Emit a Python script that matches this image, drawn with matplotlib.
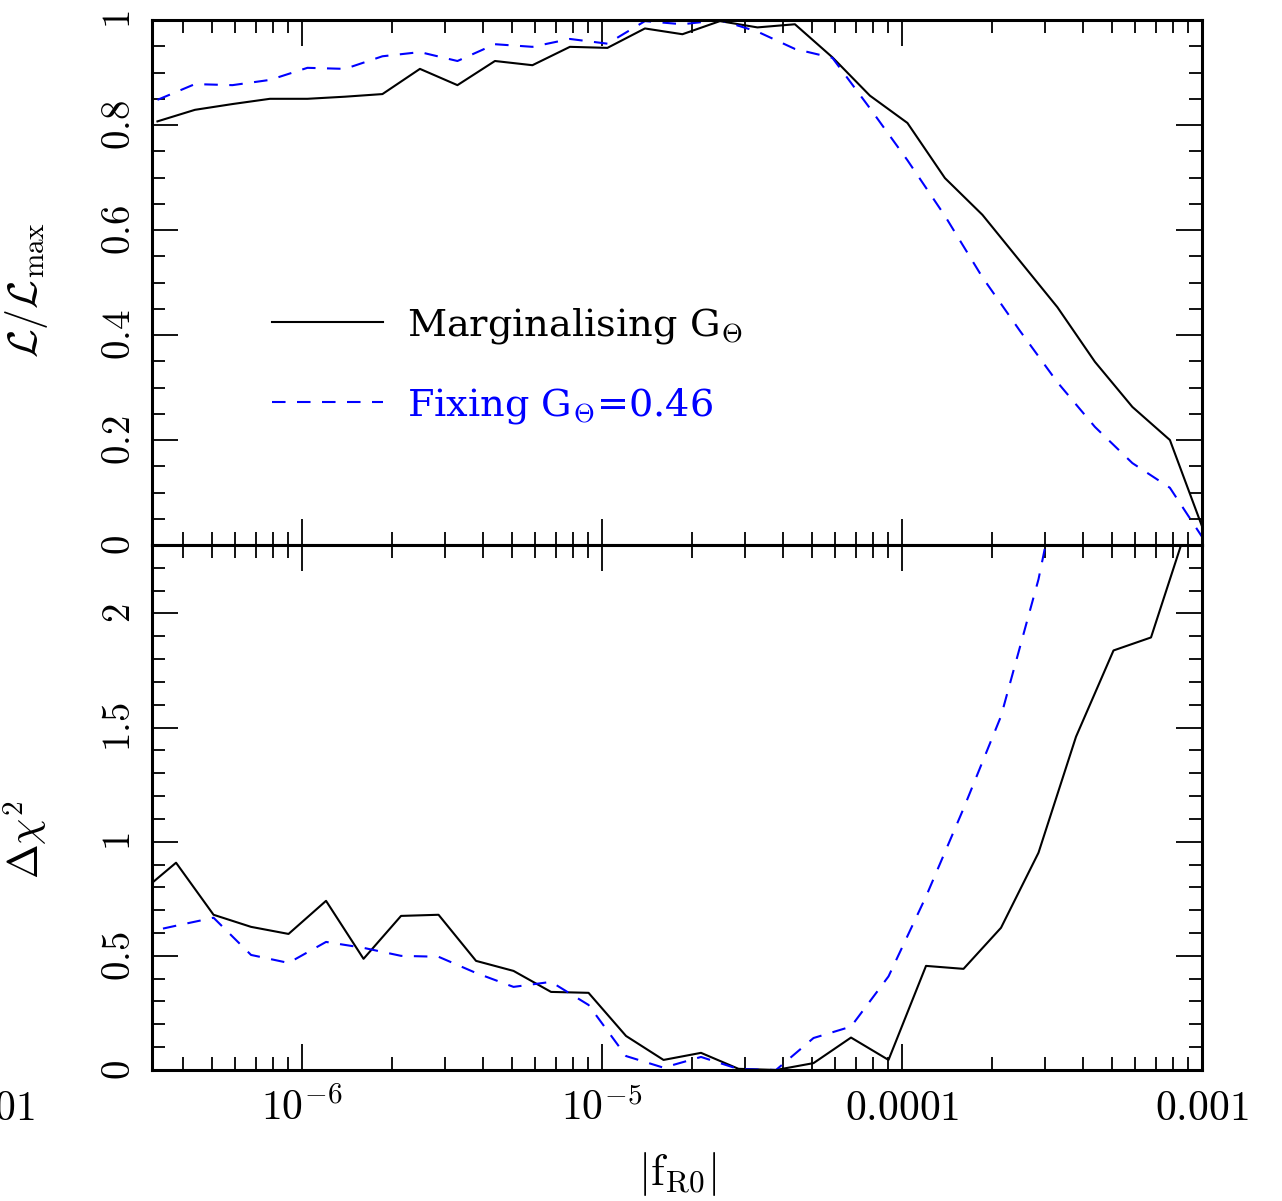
import numpy as np
import matplotlib
matplotlib.use("Agg")
import matplotlib.pyplot as plt
from matplotlib.ticker import FixedLocator, FixedFormatter, NullFormatter, LogLocator

# log10 |f_R0| grid of the likelihood (top) and of the chi^2 (bottom)
logf_like = [-6.482, -6.357, -6.232, -6.107, -5.982, -5.857, -5.732, -5.607, -5.482, -5.357,
             -5.232, -5.107, -4.982, -4.857, -4.732, -4.607, -4.482, -4.357, -4.232, -4.107,
             -3.982, -3.857, -3.732, -3.607, -3.482, -3.357, -3.232, -3.107, -2.982]
logf_chi2 = [-6.545, -6.420, -6.295, -6.170, -6.045, -5.920, -5.795, -5.670, -5.545, -5.420,
             -5.295, -5.170, -5.045, -4.920, -4.795, -4.670, -4.545, -4.420, -4.295, -4.170,
             -4.045, -3.920, -3.795, -3.670, -3.545, -3.420, -3.295, -3.170, -3.045]

like_marg = [0.807, 0.829, 0.840, 0.850, 0.850, 0.854, 0.859, 0.907, 0.876, 0.922,
             0.914, 0.949, 0.947, 0.984, 0.973, 0.998, 0.986, 0.992, 0.929, 0.856,
             0.804, 0.699, 0.629, 0.541, 0.453, 0.349, 0.263, 0.200, 0.008]
like_fixed = [0.848, 0.878, 0.876, 0.886, 0.909, 0.907, 0.931, 0.939, 0.922, 0.954,
              0.949, 0.964, 0.955, 0.998, 0.992, 1.000, 0.978, 0.945, 0.928, 0.832,
              0.733, 0.627, 0.510, 0.408, 0.310, 0.225, 0.156, 0.109, 0.000]

dchi2_marg = [0.77, 0.908, 0.68, 0.627, 0.596, 0.741, 0.487, 0.675, 0.68, 0.478,
              0.434, 0.342, 0.338, 0.149, 0.044, 0.075, 0.005, 0.0, 0.03, 0.142,
              0.044, 0.456, 0.443, 0.623, 0.952, 1.46, 1.838, 1.895, 2.40]
dchi2_fixed = [0.596, 0.632, 0.667, 0.504, 0.469, 0.561, 0.535, 0.50, 0.496, 0.425,
               0.364, 0.386, 0.285, 0.061, 0.01, 0.057, 0.004, 0.0, 0.14, 0.19,
               0.41, 0.76, 1.145, 1.55, 2.15, 2.95]

xticks = [1e-6, 1e-5, 1e-4, 1e-3]
xticklabels = [r"$10^{-6}$", r"$10^{-5}$", r"$0.0001$", r"$0.001$"]
like_ticks = [0, 0.2, 0.4, 0.6, 0.8, 1]
like_ticklabels = ["0", "0.2", "0.4", "0.6", "0.8", "1"]
chi2_ticks = [0, 0.5, 1, 1.5, 2]
chi2_ticklabels = ["0", "0.5", "1", "1.5", "2"]

plt.rcParams["mathtext.fontset"] = "cm"
plt.rcParams["font.family"] = "DejaVu Serif"

BLUE = "#0000ff"


def style(ax, yticks, yticklabels, yminor, ymax):
    ax.set_xscale("log")
    ax.set_xlim(10 ** -6.5, 1e-3)
    ax.set_ylim(0, ymax)
    ax.xaxis.set_major_locator(FixedLocator(xticks))
    ax.xaxis.set_minor_locator(LogLocator(base=10, subs=np.arange(2, 10)))
    ax.xaxis.set_minor_formatter(NullFormatter())
    ax.yaxis.set_major_locator(FixedLocator(yticks))
    ax.yaxis.set_major_formatter(FixedFormatter(["$%s$" % s for s in yticklabels]))
    ax.yaxis.set_minor_locator(FixedLocator(yminor))
    ax.tick_params(which="both", direction="in", top=True, right=True, width=1.3)
    ax.tick_params(which="major", length=19)
    ax.tick_params(which="minor", length=9.5)
    ax.tick_params(axis="y", labelsize=28, pad=10, labelrotation=90)
    for lab in ax.get_yticklabels():
        lab.set_va("center")
    for sp in ax.spines.values():
        sp.set_linewidth(2.2)


fig = plt.figure(figsize=(12.82, 12.01), dpi=100)
ax1 = fig.add_axes([0.1186, 0.5462, 0.8190, 0.4371])
ax2 = fig.add_axes([0.1186, 0.1091, 0.8190, 0.4371])

f_like = 10 ** np.array(logf_like)
f_chi2 = 10 ** np.array(logf_chi2)

ax1.plot(f_like, like_marg, color="black", lw=1.5, label=r"Marginalising G$_{\Theta}$")
ax1.plot(f_like, like_fixed, color=BLUE, lw=1.5, dashes=(6.5, 5.5), label=r"Fixing G$_{\Theta}$=0.46")
ax2.plot(f_chi2, dchi2_marg, color="black", lw=1.5)
ax2.plot(f_chi2[:len(dchi2_fixed)], dchi2_fixed, color=BLUE, lw=1.5, dashes=(6.5, 5.5))

style(ax1, like_ticks, like_ticklabels, np.arange(0, 1.0001, 0.05), 1.0)
style(ax2, chi2_ticks, chi2_ticklabels, np.arange(0, 2.31, 0.1), 2.3)

ax1.xaxis.set_major_formatter(NullFormatter())
ax2.xaxis.set_major_formatter(FixedFormatter(xticklabels))
ax2.tick_params(axis="x", labelsize=30, pad=12)

ax1.set_ylabel(r"$\mathcal{L}/\mathcal{L}_{\rm max}$", fontsize=30)
ax1.yaxis.set_label_coords(-0.097, 0.486)
ax2.set_ylabel(r"$\Delta\chi^2$", fontsize=30)
ax2.yaxis.set_label_coords(-0.097, 0.438)
ax2.set_xlabel(r"$|{\rm f}_{\rm R0}|$", fontsize=32)
ax2.xaxis.set_label_coords(0.5, -0.152)

# left-most tick label, cut by the figure edge as in the original
fig.text(35 / 1282, 1 - 1108 / 1201, r"$0.0000001$", fontsize=30, ha="right", va="center")

leg = ax1.legend(loc="upper left", bbox_to_anchor=(0.114, 0.455), frameon=False,
                 fontsize=27.5, handlelength=2.9, handletextpad=0.65, labelspacing=1.05,
                 borderpad=0, borderaxespad=0, labelcolor=["black", BLUE])

fig.savefig("out.png", dpi=100)
